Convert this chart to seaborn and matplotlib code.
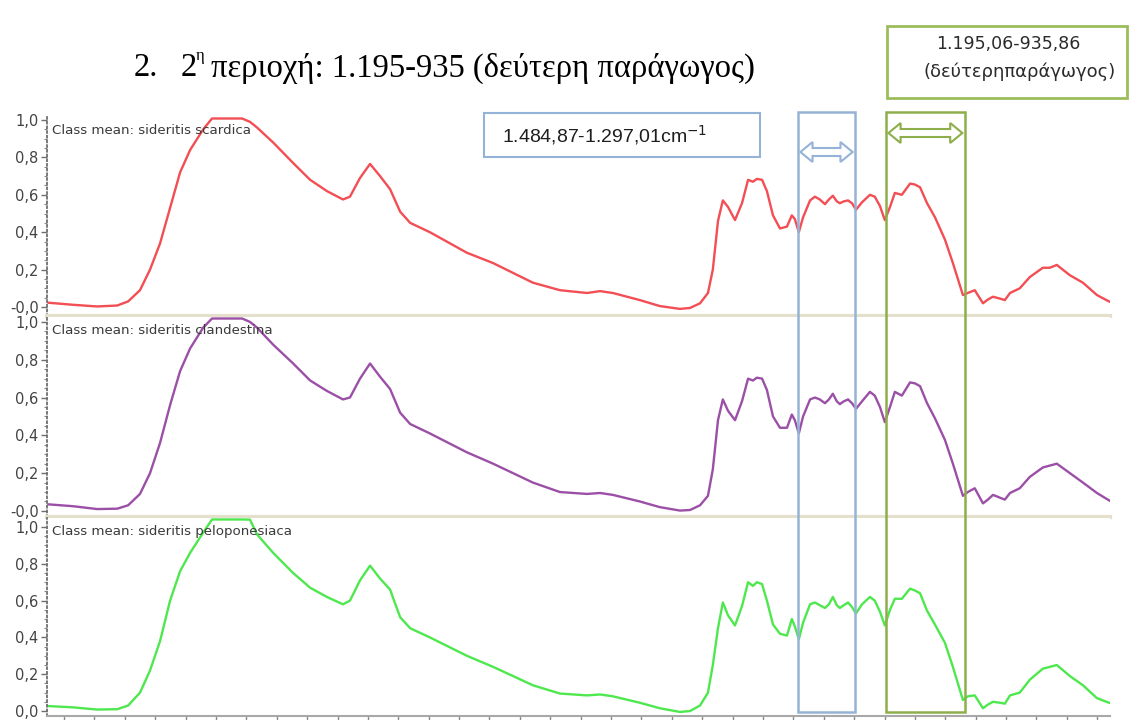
import numpy as np
import matplotlib
matplotlib.use("Agg")
import matplotlib.pyplot as plt
import seaborn as sns
from matplotlib.patches import Rectangle, Polygon
from matplotlib.transforms import blended_transform_factory
from matplotlib.ticker import MultipleLocator, FixedLocator

# ---------------- data ----------------
wavenumber = [3952, 3870, 3791, 3725, 3689, 3650, 3617, 3584, 3551, 3518,
              3485, 3442, 3413, 3380, 3347, 3314, 3288, 3265, 3212, 3146,
              3090, 3035, 2982, 2959, 2926, 2893, 2860, 2827, 2794, 2761,
              2696, 2574, 2488, 2357, 2268, 2179, 2136, 2094, 2005, 1939,
              1873, 1840, 1807, 1781, 1765, 1748, 1732, 1715, 1692, 1669,
              1649, 1633, 1620, 1603, 1587, 1567, 1544, 1521, 1505, 1495,
              1482, 1468, 1445, 1429, 1413, 1396, 1383, 1370, 1357, 1347,
              1334, 1320, 1307, 1294, 1274, 1248, 1232, 1215, 1199, 1182,
              1166, 1143, 1116, 1100, 1083, 1060, 1034, 1001, 975, 942,
              926, 903, 876, 860, 843, 820, 804, 787, 755, 722,
              679, 656, 633, 590, 547, 501, 458]

scardica = [0.023, 0.012, 0.003, 0.008, 0.03, 0.09, 0.2, 0.34, 0.53, 0.72,
            0.84, 0.95, 1.01, 1.06, 1.07, 1.04, 0.99, 0.96, 0.88, 0.77,
            0.68, 0.62, 0.575, 0.59, 0.69, 0.765, 0.70, 0.63, 0.51, 0.45,
            0.40, 0.29, 0.235, 0.13, 0.09, 0.075, 0.085, 0.075, 0.037, 0.005,
            -0.01, -0.005, 0.02, 0.075, 0.2, 0.46, 0.57, 0.535, 0.465, 0.555,
            0.68, 0.67, 0.685, 0.68, 0.62, 0.49, 0.42, 0.43, 0.49, 0.47,
            0.40, 0.48, 0.57, 0.59, 0.575, 0.55, 0.575, 0.595, 0.565, 0.555,
            0.565, 0.57, 0.555, 0.52, 0.56, 0.60, 0.59, 0.54, 0.465, 0.535,
            0.61, 0.60, 0.66, 0.655, 0.64, 0.555, 0.48, 0.36, 0.235, 0.064,
            0.075, 0.09, 0.02, 0.04, 0.055, 0.045, 0.037, 0.075, 0.10, 0.16,
            0.21, 0.21, 0.225, 0.17, 0.13, 0.064, 0.027]

clandestina = [0.035, 0.025, 0.01, 0.012, 0.03, 0.09, 0.2, 0.36, 0.56, 0.74,
               0.86, 0.97, 1.03, 1.07, 1.07, 1.05, 1.0, 0.97, 0.88, 0.78,
               0.69, 0.635, 0.59, 0.60, 0.70, 0.78, 0.71, 0.645, 0.52, 0.46,
               0.41, 0.31, 0.25, 0.15, 0.10, 0.09, 0.095, 0.085, 0.05, 0.02,
               0.002, 0.005, 0.03, 0.08, 0.22, 0.48, 0.59, 0.53, 0.48, 0.58,
               0.70, 0.69, 0.705, 0.70, 0.64, 0.50, 0.44, 0.44, 0.51, 0.48,
               0.41, 0.50, 0.59, 0.60, 0.59, 0.57, 0.59, 0.62, 0.58, 0.565,
               0.58, 0.59, 0.57, 0.54, 0.58, 0.63, 0.61, 0.55, 0.47, 0.55,
               0.63, 0.61, 0.68, 0.675, 0.66, 0.57, 0.49, 0.375, 0.25, 0.08,
               0.10, 0.12, 0.04, 0.06, 0.085, 0.07, 0.06, 0.095, 0.12, 0.18,
               0.23, 0.24, 0.25, 0.20, 0.15, 0.095, 0.053]

peloponesiaca = [0.027, 0.02, 0.008, 0.01, 0.03, 0.10, 0.22, 0.38, 0.60, 0.76,
                 0.86, 0.97, 1.05, 1.10, 1.10, 1.08, 1.04, 0.96, 0.86, 0.75,
                 0.67, 0.62, 0.58, 0.60, 0.71, 0.79, 0.72, 0.66, 0.51, 0.45,
                 0.40, 0.30, 0.24, 0.14, 0.095, 0.085, 0.09, 0.08, 0.045, 0.015,
                 -0.005, 0.0, 0.03, 0.10, 0.25, 0.45, 0.59, 0.52, 0.465, 0.57,
                 0.70, 0.68, 0.70, 0.69, 0.60, 0.47, 0.42, 0.41, 0.50, 0.46,
                 0.39, 0.48, 0.58, 0.59, 0.575, 0.56, 0.58, 0.62, 0.575, 0.56,
                 0.575, 0.59, 0.565, 0.53, 0.58, 0.62, 0.60, 0.54, 0.465, 0.55,
                 0.61, 0.61, 0.665, 0.655, 0.64, 0.545, 0.47, 0.37, 0.24, 0.06,
                 0.08, 0.085, 0.015, 0.035, 0.05, 0.045, 0.04, 0.085, 0.10, 0.17,
                 0.23, 0.24, 0.25, 0.19, 0.14, 0.07, 0.043]

series_names = ["sideritis scardica", "sideritis clandestina", "sideritis peloponesiaca"]
series_values = [scardica, clandestina, peloponesiaca]
line_colors = ["#f24e54", "#9b4fa6", "#4ee84e"]

ytick_values = [0.0, 0.2, 0.4, 0.6, 0.8, 1.0]
ytick_labels = [["-0,0", "0,2", "0,4", "0,6", "0,8", "1,0"],
                ["-0,0", "0,2", "0,4", "0,6", "0,8", "1,0"],
                ["0,0", "0,2", "0,4", "0,6", "0,8", "1,0"]]

region_blue = (1484.87, 1297.01)
region_green = (1195.06, 935.86)

title_number = "2."
title_main = "περιοχή: 1.195-935 (δεύτερη παράγωγος)"
blue_label = "1.484,87-1.297,01cm$^{-1}$"
green_label_1 = "1.195,06-935,86"
green_label_2 = "(δεύτερηπαράγωγος)"

# ---------------- figure ----------------
sns.set_style("white")
plt.rcParams["font.family"] = ["DejaVu Sans"]

W, H = 1130, 720
fig = plt.figure(figsize=(W / 100, H / 100), dpi=100)
fig.patch.set_facecolor("white")


def fx(px):
    return px / W


def fy(py):
    return 1 - py / H


panel_px = [(117, 316), (317, 517), (518, 716)]
ylims = [(-0.048, 1.016), (-0.032, 1.026), (-0.027, 1.049)]
x_left_px, x_right_px = 47, 1110

axes = []
for i, (top, bot) in enumerate(panel_px):
    ax = fig.add_axes([fx(x_left_px), fy(bot), fx(x_right_px - x_left_px), (bot - top) / H])
    axes.append(ax)
    # the instrument display saturates at the top of each panel
    shown = np.minimum(np.asarray(series_values[i]), ylims[i][1] - 0.008)
    sns.lineplot(x=wavenumber, y=shown, ax=ax, color=line_colors[i],
                 linewidth=1.7, legend=False)
    ax.set_xlim(3956, 458)
    ax.set_ylim(*ylims[i])
    ax.set_xlabel("")
    ax.set_ylabel("")
    ax.set_facecolor("white")
    for s in ["top", "right"]:
        ax.spines[s].set_visible(False)
    ax.spines["left"].set_color("#6e6e6e")
    ax.spines["left"].set_linestyle((0, (1, 1.6)))
    ax.spines["left"].set_linewidth(1.3)
    ax.yaxis.set_major_locator(FixedLocator(ytick_values))
    ax.set_yticklabels(ytick_labels[i])
    ax.yaxis.set_minor_locator(MultipleLocator(0.05))
    ax.tick_params(axis="y", which="major", length=4, width=1, color="#6e6e6e",
                   labelsize=10.5, labelcolor="#444444", pad=2, left=True)
    ax.tick_params(axis="y", which="minor", length=2, width=0.8, color="#8a8a8a", left=True)
    if i < 2:
        ax.spines["bottom"].set_color("#e4e0cc")
        ax.spines["bottom"].set_linewidth(3)
        ax.tick_params(axis="x", bottom=False, labelbottom=False)
    else:
        ax.spines["bottom"].set_color("#a8a8a8")
        ax.spines["bottom"].set_linewidth(1.5)
        ax.xaxis.set_major_locator(MultipleLocator(100))
        ax.tick_params(axis="x", bottom=True, labelbottom=False, length=4,
                       width=1, color="#8a8a8a", direction="out")
    ax.text(0.005, 1 - 14 / (bot - top), "Class mean: " + series_names[i],
            transform=ax.transAxes, ha="left", va="center", fontsize=9.6,
            color="#3a3a3a")

# ---------------- title ----------------
fig.text(fx(134), fy(68), title_number, fontsize=23.5, family="Liberation Serif",
         ha="left", va="center", color="black")
fig.text(fx(181), fy(68), "2", fontsize=23.5, family="Liberation Serif",
         ha="left", va="center", color="black")
fig.text(fx(196), fy(56), "η", fontsize=12, family="Liberation Serif",
         ha="left", va="center", color="black")
fig.text(fx(211), fy(68), title_main, fontsize=23.5, family="Liberation Serif",
         ha="left", va="center", color="black")

# ---------------- top-right green label box ----------------
fig.add_artist(Rectangle((fx(887), fy(98)), fx(1127 - 887), (98 - 26) / H,
                         transform=fig.transFigure, facecolor="white",
                         edgecolor="#9cbc5c", linewidth=2))
fig.text(fx(1008), fy(44), green_label_1, fontsize=12.5, family="DejaVu Sans",
         ha="center", va="center", color="#2a2a2a")
fig.text(fx(1020), fy(72), green_label_2, fontsize=13, family="DejaVu Sans",
         ha="center", va="center", color="#2a2a2a")

# ---------------- blue label box ----------------
fig.add_artist(Rectangle((fx(484), fy(157)), fx(760 - 484), (157 - 113) / H,
                         transform=fig.transFigure, facecolor="white",
                         edgecolor="#95b3d7", linewidth=1.5, zorder=5))
fig.text(fx(502), fy(135), blue_label, fontsize=14, family="Liberation Sans",
         ha="left", va="center", color="#1e1e1e", zorder=6)

# ---------------- region rectangles with double arrows ----------------
trans = blended_transform_factory(axes[0].transData, fig.transFigure)


def double_arrow(x0, x1, yc_px, color):
    L = 40.0
    hh, hs = 10 / H, 4 / H
    yc = fy(yc_px)
    pts = [(x0, yc), (x0 - L, yc + hh), (x0 - L, yc + hs), (x1 + L, yc + hs),
           (x1 + L, yc + hh), (x1, yc), (x1 + L, yc - hh), (x1 + L, yc - hs),
           (x0 - L, yc - hs), (x0 - L, yc - hh)]
    fig.add_artist(Polygon(pts, closed=True, transform=trans, facecolor="white",
                           edgecolor=color, linewidth=1.5, zorder=7))


for (x0, x1), col, ya in [(region_blue, "#95b3d7", 152), (region_green, "#8eae4c", 133)]:
    fig.add_artist(Rectangle((x0, fy(712)), x1 - x0, (712 - 112) / H, transform=trans,
                             facecolor="none", edgecolor=col, linewidth=1.8, zorder=6))
    double_arrow(x0 - 8, x1 + 8, ya, col)

fig.savefig("out.png", dpi=100, facecolor="white")
